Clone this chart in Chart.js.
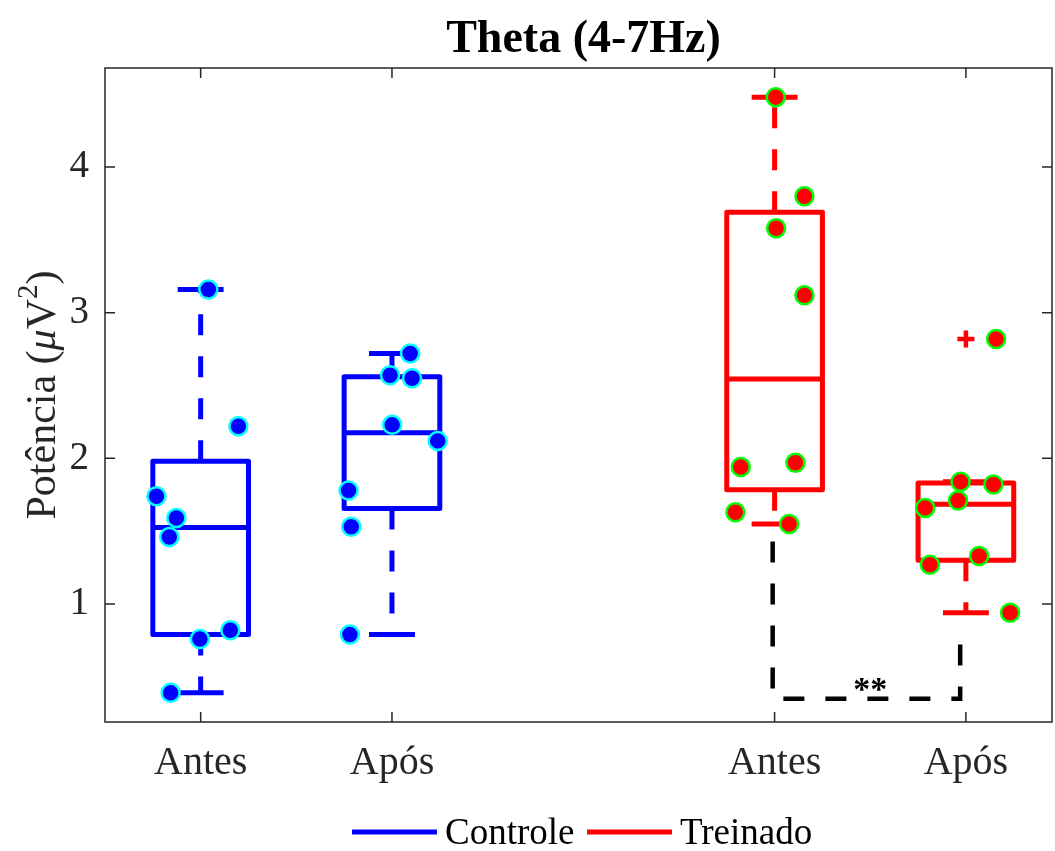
<!DOCTYPE html>
<html>
<head>
<meta charset="utf-8">
<title>Theta (4-7Hz)</title>
<script src="https://cdn.jsdelivr.net/npm/chart.js@4.4.0/dist/chart.umd.min.js"></script>
<style>
  html, body { margin: 0; padding: 0; background: #fff; }
  #wrap { width: 1055px; height: 851px; }
</style>
</head>
<body>
<div id="wrap"><canvas id="chart" width="1055" height="851"></canvas></div>
<script>
// --- data ---
const titleText = 'Theta (4-7Hz)';
const groupNames = ['Controle', 'Treinado'];
const positions = [1, 2, 4, 5];
const tickLabels = ['Antes', 'Após', 'Antes', 'Após'];
const yTicks = [1, 2, 3, 4];

// box stats per position
const q1 = [0.79, 1.655, 1.785, 1.30];
const medians = [1.525, 2.175, 2.545, 1.685];
const q3 = [1.98, 2.56, 3.69, 1.83];
const whiskLow = [0.39, 0.79, 1.55, 0.94];
const whiskHigh = [3.16, 2.72, 4.48, 1.84];
const outlierX = [5];
const outlierY = [2.82];

// subjects (x is jittered position)
const ctrlAntesX = [1.04, 1.197, 0.769, 0.873, 0.836, 0.996, 1.155, 0.843];
const ctrlAntesY = [3.16, 2.22, 1.74, 1.59, 1.46, 0.76, 0.82, 0.39];
const ctrlAposX = [2.095, 1.990, 2.105, 2.001, 2.239, 1.773, 1.787, 1.780];
const ctrlAposY = [2.72, 2.57, 2.55, 2.23, 2.12, 1.78, 1.53, 0.79];
const trenAntesX = [4.006, 4.156, 4.008, 4.156, 3.823, 4.109, 3.795, 4.076];
const trenAntesY = [4.48, 3.80, 3.58, 3.12, 1.94, 1.97, 1.63, 1.55];
const trenAposX = [5.158, 4.972, 5.144, 4.959, 4.787, 5.069, 4.812, 5.231];
const trenAposY = [2.82, 1.84, 1.82, 1.71, 1.66, 1.33, 1.27, 0.94];

// significance bracket
const sigX = [3.99, 3.99, 4.97, 4.97];
const sigY = [1.43, 0.35, 0.35, 0.85];
const sigText = '**';
const sigTextX = 4.5;
const sigTextY = 0.35;

// --- styles ---
const FONT = '"Liberation Serif", "DejaVu Serif", "Times New Roman", serif';
const AXIS = '#262626';
const BLUE = '#0000ff';
const RED = '#ff0000';
const BOX_HALF = 0.25;
const CAP_HALF = 0.12;

function pts(xs, ys) {
  return xs.map((x, i) => ({ x: x, y: ys[i] }));
}

function boxDatasets(i) {
  const c = positions[i];
  const col = i < 2 ? BLUE : RED;
  const gap = { x: c, y: null };
  const solid = [
    { x: c - BOX_HALF, y: q1[i] }, { x: c + BOX_HALF, y: q1[i] },
    { x: c + BOX_HALF, y: q3[i] }, { x: c - BOX_HALF, y: q3[i] },
    { x: c - BOX_HALF, y: q1[i] }, gap,
    { x: c - BOX_HALF, y: medians[i] }, { x: c + BOX_HALF, y: medians[i] }, gap,
    { x: c - CAP_HALF, y: whiskHigh[i] }, { x: c + CAP_HALF, y: whiskHigh[i] }, gap,
    { x: c - CAP_HALF, y: whiskLow[i] }, { x: c + CAP_HALF, y: whiskLow[i] }
  ];
  const dashed = [
    { x: c, y: q3[i] }, { x: c, y: whiskHigh[i] }, gap,
    { x: c, y: q1[i] }, { x: c, y: whiskLow[i] }
  ];
  const base = {
    showLine: true, pointRadius: 0, borderColor: col, borderWidth: 5,
    borderCapStyle: 'butt', borderJoinStyle: 'round', spanGaps: false, order: 3
  };
  return [
    Object.assign({ label: 'box' + i, data: solid }, base),
    Object.assign({ label: 'whisk' + i, data: dashed, borderDash: [21, 21] }, base)
  ];
}

function dotDataset(xs, ys, fill, ring) {
  return {
    label: 'dots', data: pts(xs, ys), showLine: false,
    pointRadius: 9, pointBorderWidth: 2.5,
    pointBackgroundColor: fill, pointBorderColor: ring, order: 0
  };
}

const datasets = [];
positions.forEach((p, i) => datasets.push(...boxDatasets(i)));
datasets.push({
  label: 'outlier', data: pts(outlierX, outlierY), showLine: false,
  pointStyle: 'cross', pointRadius: 8.5, pointBorderWidth: 4.5,
  pointBorderColor: RED, order: 1
});
datasets.push({
  label: 'sig', data: pts(sigX, sigY), showLine: true, pointRadius: 0,
  borderColor: '#000', borderWidth: 4.5, borderDash: [21, 21],
  borderCapStyle: 'butt', order: 2
});
datasets.push(dotDataset(ctrlAntesX, ctrlAntesY, BLUE, '#00ffff'));
datasets.push(dotDataset(ctrlAposX, ctrlAposY, BLUE, '#00ffff'));
datasets.push(dotDataset(trenAntesX, trenAntesY, RED, '#00ff00'));
datasets.push(dotDataset(trenAposX, trenAposY, RED, '#00ff00'));

// frame, inner ticks, title, y label, legend, significance text
const matlabPlugin = {
  id: 'matlabDecor',
  afterDraw(chart) {
    const ctx = chart.ctx;
    const a = chart.chartArea;
    const xs = chart.scales.x, ys = chart.scales.y;
    ctx.save();

    // box frame
    ctx.strokeStyle = AXIS;
    ctx.lineWidth = 1.5;
    ctx.strokeRect(a.left, a.top, a.right - a.left, a.bottom - a.top);
    ctx.beginPath();
    positions.forEach(v => {
      const px = xs.getPixelForValue(v);
      ctx.moveTo(px, a.bottom); ctx.lineTo(px, a.bottom - 10);
      ctx.moveTo(px, a.top); ctx.lineTo(px, a.top + 10);
    });
    yTicks.forEach(v => {
      const py = ys.getPixelForValue(v);
      ctx.moveTo(a.left, py); ctx.lineTo(a.left + 10, py);
      ctx.moveTo(a.right, py); ctx.lineTo(a.right - 10, py);
    });
    ctx.stroke();

    // title
    ctx.fillStyle = '#000';
    ctx.font = 'bold 46px ' + FONT;
    ctx.textAlign = 'center';
    ctx.textBaseline = 'alphabetic';
    ctx.fillText(titleText, (a.left + a.right) / 2 + 5, 52);

    // y label: Potência (μV²)
    const size = 42;
    const parts = [
      { t: 'Potência (', f: size + 'px ' + FONT, dy: 0 },
      { t: 'μ', f: 'italic ' + size + 'px ' + FONT, dy: 0 },
      { t: 'V', f: size + 'px ' + FONT, dy: 0 },
      { t: '2', f: Math.round(size * 0.7) + 'px ' + FONT, dy: -size * 0.42 },
      { t: ')', f: size + 'px ' + FONT, dy: 0 }
    ];
    let total = 0;
    parts.forEach(p => { ctx.font = p.f; p.w = ctx.measureText(p.t).width; total += p.w; });
    ctx.translate(55, (a.top + a.bottom) / 2);
    ctx.rotate(-Math.PI / 2);
    ctx.fillStyle = AXIS;
    ctx.textAlign = 'left';
    let cx = -total / 2;
    parts.forEach(p => { ctx.font = p.f; ctx.fillText(p.t, cx, p.dy); cx += p.w; });
    ctx.setTransform(1, 0, 0, 1, 0, 0);

    // significance stars
    ctx.fillStyle = '#000';
    ctx.font = 'bold 34px ' + FONT;
    ctx.textAlign = 'center';
    ctx.fillText(sigText, xs.getPixelForValue(sigTextX), ys.getPixelForValue(sigTextY) + 1);

    // legend
    const legY = 832;
    const items = [
      { name: groupNames[0], col: BLUE, x0: 352 },
      { name: groupNames[1], col: RED, x0: 587 }
    ];
    ctx.font = '37px ' + FONT;
    ctx.textAlign = 'left';
    ctx.textBaseline = 'middle';
    items.forEach(it => {
      ctx.strokeStyle = it.col;
      ctx.lineWidth = 5;
      ctx.beginPath();
      ctx.moveTo(it.x0, legY); ctx.lineTo(it.x0 + 85, legY);
      ctx.stroke();
      ctx.fillStyle = '#000';
      ctx.fillText(it.name, it.x0 + 93, legY + 2);
    });
    ctx.restore();
  }
};

new Chart(document.getElementById('chart'), {
  type: 'scatter',
  data: { datasets: datasets },
  options: {
    responsive: false,
    animation: false,
    events: [],
    layout: { autoPadding: false, padding: { top: 68, right: 3, left: 0, bottom: 0 } },
    plugins: {
      legend: { display: false },
      title: { display: false },
      tooltip: { enabled: false }
    },
    scales: {
      x: {
        type: 'linear', min: 0.5, max: 5.45,
        afterFit(s) { s.height = 129; s.paddingLeft = 0; s.paddingRight = 0; },
        afterBuildTicks(s) { s.ticks = positions.map(v => ({ value: v })); },
        ticks: {
          callback: (v, i) => tickLabels[i],
          font: { family: FONT, size: 40 }, color: AXIS, padding: 17,
          autoSkip: false, maxRotation: 0
        },
        grid: { display: false, drawTicks: false },
        border: { display: false }
      },
      y: {
        type: 'linear', min: 0.19, max: 4.68,
        afterFit(s) { s.width = 105; s.paddingTop = 0; s.paddingBottom = 0; },
        afterBuildTicks(s) { s.ticks = yTicks.map(v => ({ value: v })); },
        ticks: {
          callback: v => String(v),
          font: { family: FONT, size: 39 }, color: AXIS, padding: 16
        },
        grid: { display: false, drawTicks: false },
        border: { display: false }
      }
    }
  },
  plugins: [matlabPlugin]
});
</script>
</body>
</html>
